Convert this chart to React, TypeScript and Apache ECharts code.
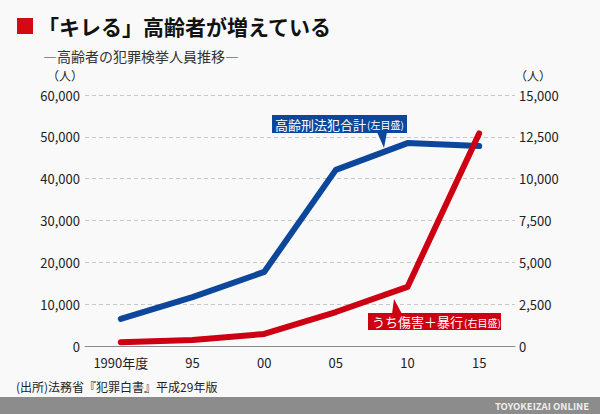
import React, { useEffect, useRef } from "react";
import * as echarts from "echarts";

const categories = ["1990年度", "95", "00", "05", "10", "15"];
const totalOffenders = [6500, 11700, 17700, 42100, 48500, 47800];
const assaultInjury = [230, 360, 720, 2030, 3530, 12700];
const leftTicks = { min: 0, max: 60000, interval: 10000 };
const rightTicks = { min: 0, max: 15000, interval: 2500 };

const FONT = '"Noto Sans CJK JP", "Noto Sans", sans-serif';
const BLUE = "#0c479b";
const RED = "#cc0012";

export default function App() {
  const ref = useRef<HTMLDivElement>(null);
  useEffect(() => {
    if (!ref.current) return;
    const chart = echarts.init(ref.current, undefined, { renderer: "svg" });
    const fmt = (v: number) => v.toLocaleString("en-US");
    chart.setOption({
      animation: false,
      backgroundColor: "#f9f9f9",
      textStyle: { fontFamily: FONT },
      grid: { left: 85, right: 85, top: 95, bottom: 68 },
      xAxis: {
        type: "category",
        data: categories,
        boundaryGap: true,
        axisLine: { lineStyle: { color: "#8a8a8a", width: 1 } },
        axisTick: { alignWithLabel: true, length: 5, lineStyle: { color: "#8a8a8a" } },
        axisLabel: { color: "#222", fontSize: 13, margin: 10, fontFamily: FONT },
      },
      yAxis: [
        {
          type: "value",
          ...leftTicks,
          position: "left",
          name: "（人）",
          nameLocation: "end",
          nameGap: 14,
          nameTextStyle: { color: "#222", fontSize: 12, align: "right", padding: [0, 2, 0, 0], fontFamily: FONT },
          axisLine: { show: false },
          axisTick: { show: false },
          axisLabel: { color: "#222", fontSize: 13, margin: 5, formatter: fmt, fontFamily: FONT },
          splitLine: { show: true, lineStyle: { color: "#c8c8c8", type: [4, 3], width: 1 } },
        },
        {
          type: "value",
          ...rightTicks,
          position: "right",
          name: "（人）",
          nameLocation: "end",
          nameGap: 14,
          nameTextStyle: { color: "#222", fontSize: 12, align: "left", padding: [0, 0, 0, 0], fontFamily: FONT },
          axisLine: { show: false },
          axisTick: { show: false },
          axisLabel: { color: "#222", fontSize: 13, margin: 4, formatter: fmt, fontFamily: FONT },
          splitLine: { show: false },
        },
      ],
      series: [
        {
          name: "高齢刑法犯合計",
          type: "line",
          yAxisIndex: 0,
          data: totalOffenders,
          showSymbol: false,
          lineStyle: { color: BLUE, width: 6, cap: "round", join: "round" },
          itemStyle: { color: BLUE },
          z: 3,
        },
        {
          name: "うち傷害＋暴行",
          type: "line",
          yAxisIndex: 1,
          data: assaultInjury,
          showSymbol: false,
          lineStyle: { color: RED, width: 6, cap: "round", join: "round" },
          itemStyle: { color: RED },
          z: 4,
        },
      ],
      graphic: [
        { type: "rect", shape: { x: 17, y: 18, width: 16, height: 16 }, style: { fill: "#d20a11" } },
        {
          type: "text",
          x: 38,
          y: 26,
          style: { text: "「キレる」高齢者が増えている", font: `bold 21px ${FONT}`, fill: "#111", verticalAlign: "middle" },
        },
        {
          type: "text",
          x: 43,
          y: 56,
          style: { text: "―高齢者の犯罪検挙人員推移―", font: `14px ${FONT}`, fill: "#333", verticalAlign: "middle" },
        },
        // blue label
        { type: "rect", shape: { x: 272, y: 115, width: 135, height: 18 }, style: { fill: BLUE }, z: 10 },
        { type: "polygon", shape: { points: [[377, 132], [387, 132], [384, 148]] }, style: { fill: BLUE }, z: 10 },
        {
          type: "text",
          x: 275,
          y: 124,
          z: 11,
          style: {
            text: "{a|高齢刑法犯合計}{b|(左目盛)}",
            verticalAlign: "middle",
            rich: {
              a: { fontSize: 13, fontFamily: FONT, fill: "#fff", color: "#fff" },
              b: { fontSize: 10, fontFamily: FONT, fill: "#fff", color: "#fff", padding: [1, 0, 0, 1] },
            },
          },
        },
        // red label
        { type: "rect", shape: { x: 368, y: 313, width: 133, height: 17 }, style: { fill: RED }, z: 10 },
        { type: "polygon", shape: { points: [[392, 314], [402, 314], [394, 299]] }, style: { fill: RED }, z: 10 },
        {
          type: "text",
          x: 372,
          y: 321.5,
          z: 11,
          style: {
            text: "{a|うち傷害＋暴行}{b|(右目盛)}",
            verticalAlign: "middle",
            rich: {
              a: { fontSize: 13, fontFamily: FONT, fill: "#fff", color: "#fff" },
              b: { fontSize: 10, fontFamily: FONT, fill: "#fff", color: "#fff", padding: [1, 0, 0, 1] },
            },
          },
        },
        {
          type: "text",
          x: 16,
          y: 386,
          style: { text: "(出所)法務省『犯罪白書』平成29年版", font: `12px ${FONT}`, fill: "#222", verticalAlign: "middle" },
        },
        { type: "rect", shape: { x: 0, y: 397, width: 600, height: 17 }, style: { fill: "#8c8c8c" } },
        {
          type: "text",
          x: 589,
          y: 406,
          style: {
            text: "TOYOKEIZAI ONLINE",
            font: `bold 9.5px ${FONT}`,
            fill: "#eeeeee",
            align: "right",
            verticalAlign: "middle",
          },
        },
      ],
    });
    return () => chart.dispose();
  }, []);
  return (
    <div
      ref={ref}
      style={{ position: "fixed", left: 0, top: 0, width: 600, height: 414 }}
    />
  );
}
